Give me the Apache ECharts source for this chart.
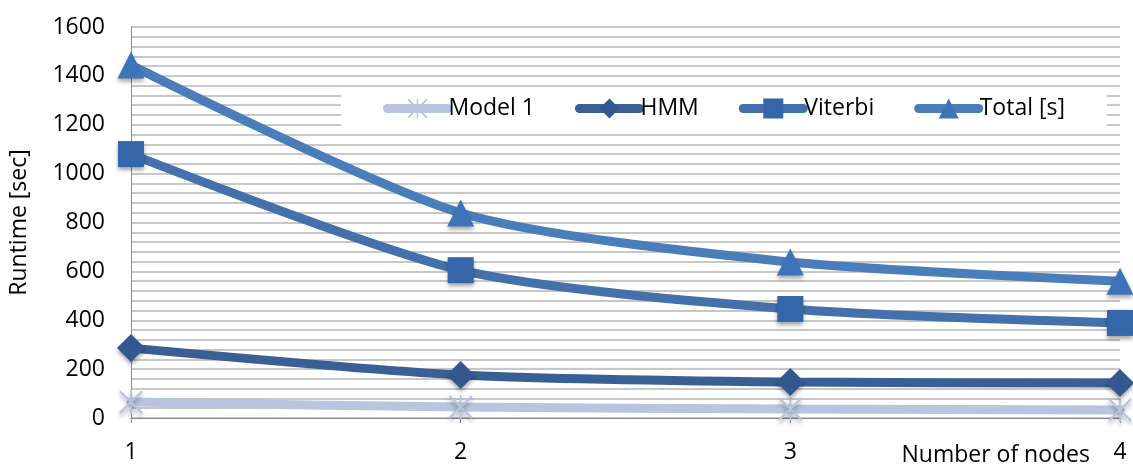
<!DOCTYPE html>
<html>
<head>
<meta charset="utf-8">
<script src="https://cdn.jsdelivr.net/npm/echarts@6/dist/echarts.min.js"></script>
<style>html,body{margin:0;padding:0;background:#fff;}#c{width:1133px;height:470px;}</style>
</head>
<body>
<div id="c"></div>
<script>
const categories = ['1', '2', '3', '4'];
const model1 = [65, 45, 37, 33];
const hmm = [286, 176, 147, 143];
const viterbi = [1080, 605, 446, 389];
const total = [1444, 839, 638, 560];
const yTickLabels = [0, 200, 400, 600, 800, 1000, 1200, 1400, 1600];

const FONT = 'Open Sans';
const FS = 23;
const starPath = 'path://M-10.7,-9.3 L-9.3,-10.7 L10.7,9.3 L9.3,10.7 Z M9.3,-10.7 L10.7,-9.3 L-9.3,10.7 L-10.7,9.3 Z M-0.8,-11 L0.8,-11 L0.8,11 L-0.8,11 Z';
const shadow = {shadowBlur: 4, shadowColor: 'rgba(0,0,0,0.35)', shadowOffsetY: 3};

function mk(name, data, lineColor, markColor, symbol, size) {
  return {
    name: name, type: 'line', data: data, smooth: 0.25,
    symbol: symbol, symbolSize: size,
    lineStyle: {width: 9, color: lineColor, cap: 'round'},
    itemStyle: Object.assign({color: markColor, borderWidth: 0}, shadow),
    emphasis: {disabled: true}
  };
}

const chart = echarts.init(document.getElementById('c'));
chart.setOption({
  animation: false,
  backgroundColor: '#fff',
  textStyle: {fontFamily: FONT},
  grid: {left: 127, right: 13, top: 27, bottom: 52, containLabel: false},
  legend: {
    left: 341, top: 88,
    backgroundColor: '#fff',
    padding: [9, 42, 9, 42],
    itemGap: 40, itemWidth: 60, itemHeight: 25,
    lineStyle: {width: 9, cap: 'round'},
    itemStyle: {shadowBlur: 0, shadowOffsetY: 0},
    textStyle: {fontFamily: FONT, fontSize: FS, color: '#000', padding: [0, 0, 0, -4]},
    data: ['Model 1', 'HMM', 'Viterbi', 'Total [s]']
  },
  xAxis: {
    type: 'category', data: categories, boundaryGap: false,
    axisLine: {lineStyle: {color: '#8c8c8c', width: 1}},
    axisTick: {show: true, length: 5, lineStyle: {color: '#8c8c8c'}},
    axisLabel: {fontFamily: FONT, fontSize: FS, color: '#000', margin: 23},
    splitLine: {show: false}
  },
  yAxis: {
    type: 'value', min: 0, max: 1600, interval: 40,
    name: 'Runtime [sec]', nameLocation: 'middle', nameGap: 100,
    nameTextStyle: {fontFamily: FONT, fontSize: FS, color: '#000'},
    axisLine: {show: true, lineStyle: {color: '#8c8c8c', width: 1}},
    axisTick: {show: false},
    axisLabel: {
      fontFamily: FONT, fontSize: FS, color: '#000', margin: 26,
      formatter: function (v) { return yTickLabels.indexOf(v) >= 0 ? String(v) : ''; }
    },
    splitLine: {show: true, lineStyle: {color: '#b4b4b4', width: 1.5}}
  },
  graphic: [{
    type: 'text', right: 43, top: 444,
    style: {text: 'Number of nodes', font: FS + 'px "' + FONT + '"', fill: '#000'}
  }],
  series: [
    mk('Model 1', model1, '#b7c5de', '#b7c5de', starPath, 24),
    mk('HMM', hmm, '#3a5f94', '#32588f', 'diamond', 28),
    mk('Viterbi', viterbi, '#4471ab', '#3566a9', 'rect', 26),
    mk('Total [s]', total, '#4a7ebb', '#3d73b8', 'triangle', 27)
  ]
});
</script>
</body>
</html>
